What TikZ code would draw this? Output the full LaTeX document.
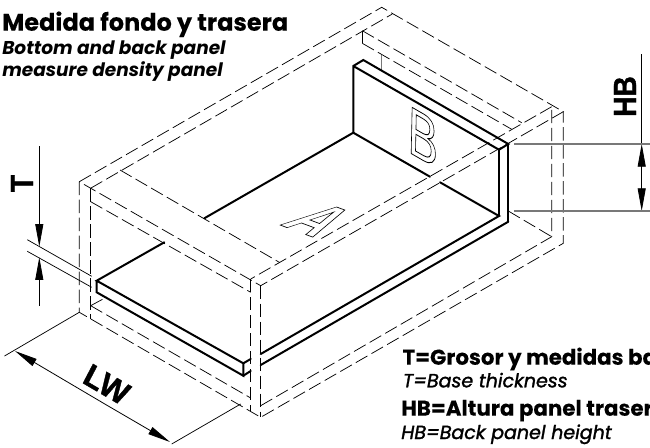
\documentclass[tikz,border=0pt]{standalone}
\usepackage{fontspec}
\usetikzlibrary{arrows.meta}
\newfontfamily\popfont{Poppins}[BoldFeatures={FakeBold=0.1}]
\newfontfamily\arialfont{Liberation Sans}
\newfontfamily\arialheavy{Liberation Sans}[BoldFeatures={FakeBold=1.2}]
\newcommand{\outlinetext}[1]{\special{pdf:literal direct 1 Tr 0.13 w}#1\special{pdf:literal direct 0 Tr}}
\newcommand{\heavytext}[1]{\special{pdf:literal direct 2 Tr 0.22 w}#1\special{pdf:literal direct 0 Tr}}
\definecolor{gra}{RGB}{120, 120, 120}
\tikzset{
    solidline/.style = {black, line width=1.5pt, line cap=round, line join=miter},
    hiddenline/.style = {black, line width=0.55pt, dash pattern=on 10pt off 3.5pt},
    thinline/.style = {black, line width=0.55pt},
    grayline/.style = {gra, line width=0.9pt},
    dimout/.style = {black, line width=0.6pt, -{Triangle[length=17pt, width=6pt]}},
    titlenode/.style = {anchor=base west, inner sep=0em, font=\popfont\bfseries\fontsize{18}{20}\selectfont},
    subnode/.style = {anchor=base west, inner sep=0em, font=\popfont\bfseries\itshape\fontsize{13.9}{14}\selectfont},
    headnode/.style = {anchor=base west, inner sep=0em, font=\popfont\bfseries\fontsize{16}{16}\selectfont},
    notenode/.style = {anchor=base west, inner sep=0em, font=\popfont\itshape\fontsize{14.25}{14}\selectfont},
    dimnode/.style = {inner sep=0em, font=\arialheavy\bfseries\fontsize{10}{10}\selectfont, transform shape},
    thinnode/.style = {inner sep=0em, font=\arialfont\fontsize{10}{10}\selectfont, transform shape}
}
\begin{document}
\begin{tikzpicture}[x=0.75pt, y=-0.75pt]
\useasboundingbox (0,0) rectangle (650,447);

% outer box
\coordinate (outa) at (79.3,181.7);
\coordinate (outb) at (90.7,188.2);
\coordinate (outc) at (381.7,7.3);
\coordinate (outd) at (392.3,14);
\coordinate (oute) at (563.3,111.7);
\coordinate (outf) at (551.7,106.7);
\coordinate (outg) at (260.7,285.7);
\coordinate (outh) at (250.7,279);
\coordinate (lowa) at (79.3,312.3);
\coordinate (lowb) at (90.7,319);
\coordinate (lowc) at (90.7,305.7);
\coordinate (lowd) at (250.7,398);
\coordinate (lowe) at (260.7,417.3);
\coordinate (lowf) at (260.7,405.7);
\coordinate (lowg) at (250.7,411);
\coordinate (lowh) at (563.3,243.3);
\coordinate (lowi) at (551.7,236.7);
\draw [hiddenline] (outa) -- (outc) -- (oute) -- (outg) -- (outa);
\draw [hiddenline] (outb) -- (outd);
\draw [hiddenline] (outf) -- (outh);
\draw [hiddenline] (outa) -- (lowa) -- (lowe) -- (lowh) -- (oute);
\draw [hiddenline] (outb) -- (lowb);
\draw [hiddenline] (lowc) -- (lowd);
\draw [hiddenline] (outh) -- (lowg);
\draw [hiddenline] (outg) -- (lowe);
\draw [hiddenline] (lowf) -- (lowi) -- (outf);

% inner lines
\coordinate (ina) at (90.7,201.7);
\coordinate (inb) at (250.7,292.3);
\coordinate (inc) at (120,170);
\coordinate (ind) at (280,262.7);
\coordinate (ine) at (362.3,30.7);
\coordinate (inf) at (521.7,122.7);
\coordinate (ing) at (362.3,43.3);
\coordinate (inh) at (511.7,129.3);
\coordinate (ini) at (381.7,54.5);
\coordinate (inj) at (381.7,70);
\coordinate (ink) at (508.3,211);
\coordinate (inl) at (106.7,297);
\draw [hiddenline] (ina) -- (inb);
\draw [hiddenline] (inc) -- (ind);
\draw [hiddenline] (ine) -- (inf);
\draw [hiddenline] (ing) -- (inh);
\draw [hiddenline] (ink) -- (lowi);
\draw [hiddenline] (lowc) -- (inl);
\draw [thinline] (ine) -- (ing);
\draw [grayline] (ini) -- (inj);

% bottom panel A
\coordinate (basea) at (96.7,280.7);
\coordinate (baseb) at (96.7,292.3);
\coordinate (basec) at (243.3,363.3);
\coordinate (based) at (243.3,375.7);
\coordinate (basee) at (250.7,359);
\coordinate (basef) at (250.7,371);
\coordinate (baseg) at (260.7,354);
\coordinate (baseh) at (260.7,365);
\coordinate (basei) at (164.3,242.3);
\coordinate (basej) at (204.3,218.3);
\draw [solidline] (basei) -- (basea) -- (basec) -- (based) -- (baseb) -- (basea);
\draw [solidline] (basec) -- (basee);
\draw [solidline] (based) -- (basef);

% back panel B
\coordinate (backa) at (353.3,132.7);
\coordinate (backb) at (353.3,66);
\coordinate (backc) at (363.3,60);
\coordinate (backd) at (508.3,144);
\coordinate (backe) at (499,149.7);
\coordinate (backf) at (499,216);
\coordinate (backg) at (508.3,221.7);
\coordinate (backh) at (430,176.7);
\coordinate (backi) at (440,182.3);
\draw [solidline] (basej) -- (backa) -- (backh);
\draw [solidline] (backi) -- (backf) -- (baseg);
\draw [solidline] (backg) -- (baseh);
\draw [solidline] (backa) -- (backb) -- (backc) -- (backd) -- (backe) -- (backb);
\draw [solidline] (backe) -- (backf);
\draw [solidline] (backd) -- (backg);

\node [thinnode, name=lettera, cm={3.64,-1.35,4.82,2.46,(0,0)}] at (318.6,219.8) {\bfseries\outlinetext{A}};
\node [thinnode, name=letterb, cm={3.38,-1.95,0.105,5.03,(0,0)}] at (423,137) {\outlinetext{B}};

% dimension T
\coordinate (ta) at (39.3,146);
\coordinate (tb) at (39.3,246.7);
\coordinate (tc) at (39.3,305.7);
\coordinate (td) at (39.3,257.3);
\coordinate (te) at (27.3,239.7);
\coordinate (tf) at (91.7,276.3);
\coordinate (tg) at (27.3,251.3);
\coordinate (th) at (91.7,287.3);
\draw [dimout] (ta) -- (tb);
\draw [dimout] (tc) -- (td);
\draw [thinline] (te) -- (tf);
\draw [thinline] (tg) -- (th);
\node [dimnode, name=tlabel, rotate=90, xscale=0.88] at (22,183.5) {\fontsize{24}{24}\selectfont T};

% dimension HB
\coordinate (ha) at (641.7,54);
\coordinate (hb) at (641.7,144);
\coordinate (hc) at (641.7,178);
\coordinate (hd) at (641.7,211);
\coordinate (he) at (514.3,144);
\coordinate (hf) at (650,144);
\coordinate (hg) at (514.3,211);
\coordinate (hh) at (650,211);
\draw [thinline] (ha) -- (hb);
\draw [dimout] (hc) -- (hb);
\draw [dimout] (hc) -- (hd);
\draw [grayline] (he) -- (hf);
\draw [grayline] (hg) -- (hh);
\node [dimnode, name=hblabel, rotate=90, xscale=0.88] at (625,96.5) {\fontsize{24}{24}\selectfont HB};

% dimension LW
\coordinate (wa) at (15,351);
\coordinate (wb) at (170,442);
\coordinate (wc) at (4.5,356);
\coordinate (wd) at (171.7,444);
\coordinate (we) at (240.7,404);
\draw [dimout] (106,404.7) -- (wa);
\draw [dimout] (106,404.7) -- (wb);
\draw [thinline] (lowa) -- (wc);
\draw [thinline] (wd) -- (we);
\node [dimnode, name=lwlabel, cm={2.05,-1.2,1.1,2.1,(0,0)}] at (106.7,384.5) {LW};

% texts
\node [titlenode, name=title] at (2,30.7) {Medida fondo y trasera};
\node [subnode, name=suba] at (2,54) {Bottom and back panel};
\node [subnode, name=subb] at (2,76) {measure density panel};
\node [headnode, name=heada] at (402.3,364.7) {T=Grosor y medidas ba};
\node [notenode, name=notea] at (402.7,387.3) {\heavytext{T=Base thickness}};
\node [headnode, name=headb] at (401,415.7) {HB=Altura panel traser};
\node [notenode, name=noteb] at (401,439) {\heavytext{HB=Back panel height}};
\end{tikzpicture}
\end{document}
